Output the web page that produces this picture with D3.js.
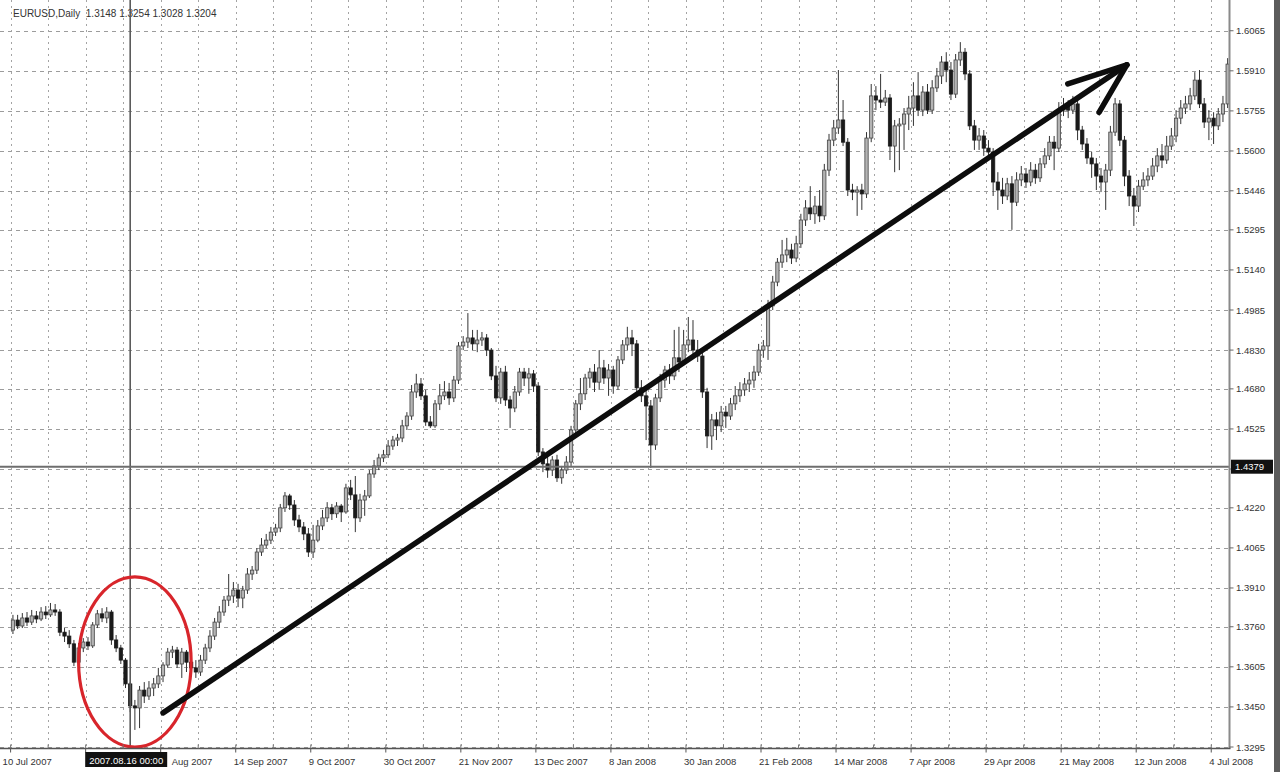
<!DOCTYPE html>
<html><head><meta charset="utf-8">
<script src="https://cdn.jsdelivr.net/npm/d3@7"></script>
<style>html,body{margin:0;padding:0;background:#fff;}svg{display:block;}</style>
</head><body>
<svg id="chart" width="1280" height="772"></svg>
<script>
// ---- data (EURUSD daily candles) ----
const opens = [
1.3747,1.3786,1.3763,1.3794,1.3778,1.3802,1.3790,1.3817,1.3806,1.3825,
1.3817,1.3739,1.3724,1.3694,1.3623,1.3678,1.3701,1.3686,1.3767,1.3810,
1.3794,1.3817,1.3709,1.3678,1.3631,1.3539,1.3454,1.3446,1.3515,1.3492,
1.3523,1.3539,1.3570,1.3612,1.3662,1.3670,1.3616,1.3662,1.3623,1.3601,
1.3585,1.3631,1.3678,1.3724,1.3778,1.3817,1.3863,1.3879,1.3902,1.3871,
1.3902,1.3964,1.3979,1.4049,1.4076,1.4095,1.4126,1.4142,1.4220,1.4266,
1.4231,1.4173,1.4146,1.4119,1.4049,1.4095,1.4150,1.4181,1.4220,1.4197,
1.4227,1.4204,1.4297,1.4270,1.4181,1.4250,1.4266,1.4351,1.4382,1.4413,
1.4425,1.4459,1.4482,1.4490,1.4537,1.4575,1.4668,1.4699,1.4653,1.4552,
1.4537,1.4622,1.4653,1.4668,1.4645,1.4714,1.4846,1.4861,1.4877,1.4854,
1.4869,1.4877,1.4830,1.4730,1.4645,1.4745,1.4637,1.4606,1.4668,1.4745,
1.4722,1.4738,1.4691,1.4436,1.4390,1.4366,1.4405,1.4336,1.4366,1.4397,
1.4521,1.4622,1.4661,1.4722,1.4745,1.4706,1.4761,1.4722,1.4753,1.4691,
1.4792,1.4850,1.4877,1.4854,1.4684,1.4653,1.4614,1.4463,1.4645,1.4714,
1.4753,1.4730,1.4800,1.4784,1.4850,1.4869,1.4830,1.4807,1.4668,1.4498,
1.4560,1.4537,1.4590,1.4575,1.4622,1.4653,1.4676,1.4699,1.4714,1.4745,
1.4830,1.4846,1.5001,1.5093,1.5170,1.5198,1.5217,1.5186,1.5241,1.5333,
1.5380,1.5357,1.5387,1.5349,1.5526,1.5642,1.5689,1.5720,1.5634,1.5449,
1.5441,1.5449,1.5434,1.5650,1.5813,1.5797,1.5789,1.5805,1.5619,1.5697,
1.5704,1.5743,1.5766,1.5813,1.5758,1.5828,1.5758,1.5844,1.5890,1.5944,
1.5913,1.5820,1.5952,1.5982,1.5898,1.5697,1.5642,1.5658,1.5611,1.5596,
1.5480,1.5449,1.5426,1.5473,1.5402,1.5488,1.5511,1.5480,1.5526,1.5496,
1.5550,1.5581,1.5634,1.5611,1.5758,1.5774,1.5758,1.5782,1.5681,1.5627,
1.5573,1.5550,1.5503,1.5480,1.5526,1.5673,1.5782,1.5642,1.5503,1.5426,
1.5387,1.5464,1.5488,1.5503,1.5542,1.5581,1.5565,1.5619,1.5658,1.5727,
1.5766,1.5782,1.5813,1.5874,1.5782,1.5712,1.5727,1.5697,1.5743,1.5782];
const highs = [
1.3806,1.3806,1.3813,1.3817,1.3825,1.3821,1.3836,1.3840,1.3852,1.3848,
1.3828,1.3755,1.3747,1.3709,1.3697,1.3716,1.3720,1.3778,1.3825,1.3832,
1.3836,1.3825,1.3728,1.3690,1.3639,1.3546,1.3477,1.3531,1.3546,1.3550,
1.3562,1.3601,1.3623,1.3678,1.3686,1.3682,1.3678,1.3670,1.3639,1.3631,
1.3651,1.3694,1.3747,1.3794,1.3840,1.3879,1.3964,1.3933,1.3926,1.3918,
1.3987,1.3995,1.4064,1.4103,1.4119,1.4146,1.4158,1.4235,1.4281,1.4274,
1.4250,1.4193,1.4165,1.4142,1.4154,1.4173,1.4212,1.4242,1.4235,1.4242,
1.4235,1.4313,1.4328,1.4343,1.4274,1.4289,1.4366,1.4405,1.4429,1.4444,
1.4482,1.4498,1.4506,1.4560,1.4590,1.4695,1.4738,1.4722,1.4676,1.4575,
1.4637,1.4699,1.4710,1.4703,1.4730,1.4861,1.4884,1.4973,1.4908,1.4908,
1.4900,1.4892,1.4838,1.4769,1.4761,1.4769,1.4653,1.4691,1.4761,1.4761,
1.4761,1.4753,1.4706,1.4451,1.4420,1.4420,1.4425,1.4382,1.4420,1.4537,
1.4637,1.4722,1.4738,1.4761,1.4776,1.4830,1.4792,1.4776,1.4769,1.4807,
1.4869,1.4920,1.4908,1.4869,1.4714,1.4684,1.4637,1.4661,1.4738,1.4769,
1.4776,1.4908,1.4920,1.4908,1.4958,1.4946,1.4869,1.4822,1.4684,1.4583,
1.4590,1.4614,1.4614,1.4645,1.4691,1.4706,1.4722,1.4745,1.4769,1.4854,
1.4869,1.5024,1.5117,1.5186,1.5256,1.5264,1.5241,1.5272,1.5357,1.5410,
1.5464,1.5426,1.5449,1.5550,1.5666,1.5720,1.5913,1.5797,1.5650,1.5473,
1.5464,1.5473,1.5673,1.5859,1.5851,1.5898,1.5836,1.5820,1.5720,1.5727,
1.5766,1.5813,1.5866,1.5905,1.5851,1.5859,1.5874,1.5921,1.5967,1.5982,
1.5944,1.5975,1.6021,1.5998,1.5913,1.5720,1.5689,1.5681,1.5642,1.5611,
1.5518,1.5496,1.5496,1.5503,1.5518,1.5542,1.5534,1.5557,1.5550,1.5573,
1.5611,1.5658,1.5658,1.5789,1.5805,1.5797,1.5813,1.5797,1.5697,1.5650,
1.5596,1.5573,1.5534,1.5550,1.5697,1.5805,1.5797,1.5658,1.5526,1.5457,
1.5488,1.5518,1.5534,1.5573,1.5611,1.5627,1.5658,1.5689,1.5758,1.5797,
1.5813,1.5844,1.5905,1.5913,1.5805,1.5758,1.5750,1.5766,1.5813,1.5959];
const lows = [
1.3732,1.3751,1.3755,1.3763,1.3767,1.3774,1.3782,1.3790,1.3798,1.3802,
1.3724,1.3701,1.3678,1.3608,1.3612,1.3662,1.3670,1.3678,1.3755,1.3778,
1.3774,1.3690,1.3662,1.3616,1.3523,1.3430,1.3361,1.3368,1.3465,1.3477,
1.3492,1.3523,1.3546,1.3601,1.3639,1.3601,1.3562,1.3585,1.3574,1.3562,
1.3570,1.3616,1.3662,1.3709,1.3755,1.3802,1.3840,1.3852,1.3836,1.3832,
1.3887,1.3941,1.3964,1.4034,1.4064,1.4080,1.4111,1.4126,1.4204,1.4212,
1.4150,1.4126,1.4095,1.4030,1.4026,1.4087,1.4134,1.4165,1.4173,1.4181,
1.4165,1.4197,1.4250,1.4126,1.4165,1.4189,1.4258,1.4336,1.4366,1.4397,
1.4413,1.4444,1.4459,1.4474,1.4521,1.4560,1.4645,1.4637,1.4537,1.4529,
1.4529,1.4598,1.4637,1.4618,1.4629,1.4699,1.4830,1.4838,1.4830,1.4822,
1.4846,1.4807,1.4714,1.4629,1.4622,1.4614,1.4529,1.4590,1.4653,1.4691,
1.4661,1.4668,1.4420,1.4358,1.4336,1.4343,1.4320,1.4313,1.4351,1.4382,
1.4498,1.4598,1.4637,1.4684,1.4668,1.4676,1.4699,1.4653,1.4661,1.4676,
1.4776,1.4830,1.4807,1.4668,1.4629,1.4482,1.4374,1.4444,1.4629,1.4684,
1.4699,1.4714,1.4745,1.4769,1.4822,1.4807,1.4784,1.4645,1.4451,1.4444,
1.4482,1.4513,1.4529,1.4560,1.4598,1.4629,1.4653,1.4668,1.4684,1.4730,
1.4800,1.4792,1.4985,1.5077,1.5148,1.5170,1.5163,1.5170,1.5225,1.5310,
1.5333,1.5318,1.5325,1.5333,1.5503,1.5619,1.5666,1.5619,1.5426,1.5410,
1.5349,1.5372,1.5418,1.5634,1.5758,1.5766,1.5774,1.5565,1.5518,1.5526,
1.5604,1.5681,1.5697,1.5735,1.5735,1.5743,1.5743,1.5828,1.5859,1.5866,
1.5797,1.5805,1.5929,1.5874,1.5681,1.5604,1.5604,1.5581,1.5565,1.5426,
1.5372,1.5395,1.5410,1.5295,1.5387,1.5464,1.5457,1.5464,1.5473,1.5480,
1.5534,1.5565,1.5526,1.5596,1.5735,1.5727,1.5743,1.5642,1.5604,1.5550,
1.5496,1.5449,1.5441,1.5372,1.5503,1.5658,1.5619,1.5464,1.5387,1.5310,
1.5364,1.5449,1.5464,1.5488,1.5518,1.5534,1.5550,1.5604,1.5634,1.5704,
1.5743,1.5758,1.5797,1.5766,1.5689,1.5642,1.5627,1.5681,1.5712,1.5766];
const closes = [
1.3786,1.3763,1.3794,1.3778,1.3802,1.3790,1.3817,1.3806,1.3825,1.3817,
1.3739,1.3724,1.3694,1.3623,1.3678,1.3701,1.3686,1.3767,1.3810,1.3794,
1.3817,1.3709,1.3678,1.3631,1.3539,1.3454,1.3446,1.3515,1.3492,1.3523,
1.3539,1.3570,1.3612,1.3662,1.3670,1.3616,1.3662,1.3623,1.3601,1.3585,
1.3631,1.3678,1.3724,1.3778,1.3817,1.3863,1.3879,1.3902,1.3871,1.3902,
1.3964,1.3979,1.4049,1.4076,1.4095,1.4126,1.4142,1.4220,1.4266,1.4231,
1.4173,1.4146,1.4119,1.4049,1.4095,1.4150,1.4181,1.4220,1.4197,1.4227,
1.4204,1.4297,1.4270,1.4181,1.4250,1.4266,1.4351,1.4382,1.4413,1.4425,
1.4459,1.4482,1.4490,1.4537,1.4575,1.4668,1.4699,1.4653,1.4552,1.4537,
1.4622,1.4653,1.4668,1.4645,1.4714,1.4846,1.4861,1.4877,1.4854,1.4869,
1.4877,1.4830,1.4730,1.4645,1.4745,1.4637,1.4606,1.4668,1.4745,1.4722,
1.4738,1.4691,1.4436,1.4390,1.4366,1.4405,1.4336,1.4366,1.4397,1.4521,
1.4622,1.4661,1.4722,1.4745,1.4706,1.4761,1.4722,1.4753,1.4691,1.4792,
1.4850,1.4877,1.4854,1.4684,1.4653,1.4614,1.4463,1.4645,1.4714,1.4753,
1.4730,1.4800,1.4784,1.4850,1.4869,1.4830,1.4807,1.4668,1.4498,1.4560,
1.4537,1.4590,1.4575,1.4622,1.4653,1.4676,1.4699,1.4714,1.4745,1.4830,
1.4846,1.5001,1.5093,1.5170,1.5198,1.5217,1.5186,1.5241,1.5333,1.5380,
1.5357,1.5387,1.5349,1.5526,1.5642,1.5689,1.5720,1.5634,1.5449,1.5441,
1.5449,1.5434,1.5650,1.5813,1.5797,1.5789,1.5805,1.5619,1.5697,1.5704,
1.5743,1.5766,1.5813,1.5758,1.5828,1.5758,1.5844,1.5890,1.5944,1.5913,
1.5820,1.5952,1.5982,1.5898,1.5697,1.5642,1.5658,1.5611,1.5596,1.5480,
1.5449,1.5426,1.5473,1.5402,1.5488,1.5511,1.5480,1.5526,1.5496,1.5550,
1.5581,1.5634,1.5611,1.5758,1.5774,1.5758,1.5782,1.5681,1.5627,1.5573,
1.5550,1.5503,1.5480,1.5526,1.5673,1.5782,1.5642,1.5503,1.5426,1.5387,
1.5464,1.5488,1.5503,1.5542,1.5581,1.5565,1.5619,1.5658,1.5727,1.5766,
1.5782,1.5813,1.5874,1.5782,1.5712,1.5727,1.5697,1.5743,1.5782,1.5936];

// date labels every 16 bars; the 2nd one is hidden under the crosshair date box in the reference,
// and only the "Aug 2007" part of the 3rd one is visible there
const dateLabels = ["10 Jul 2007","","Aug 2007","14 Sep 2007","9 Oct 2007","30 Oct 2007",
  "21 Nov 2007","13 Dec 2007","8 Jan 2008","30 Jan 2008","21 Feb 2008","14 Mar 2008","7 Apr 2008",
  "29 Apr 2008","21 May 2008","12 Jun 2008","4 Jul 2008"];
const priceTicks = [1.3295,1.3450,1.3605,1.3760,1.3910,1.4065,1.4220,1.4370,1.4525,1.4680,
  1.4830,1.4985,1.5140,1.5295,1.5446,1.5600,1.5755,1.5910,1.6065];
const headerText = "EURUSD,Daily  1.3148 1.3254 1.3028 1.3204";
const crosshairBar = 25;
const crosshairDate = "2007.08.16 00:00";
const crosshairPrice = 1.4379;
const trendFrom = {bar: 32, price: 1.3427};
const trendTo = {bar: 237.5, price: 1.5933};
const circleCenter = {bar: 26, price: 1.3624};
const circleHalfBars = 12, circleHalfPrice = 0.0329;

// ---- drawing ----
const FONT = "'Liberation Sans', Arial, sans-serif";
const svg = d3.select("#chart");
const n = closes.length;
const axisX = 1229.5, axisY = 748.5;
const y = d3.scaleLinear().domain([1.3295, 1.6064]).range([747, 31]);
const x = d3.scaleBand().domain(d3.range(n)).range([10.6, 1230]).paddingInner(0.3).paddingOuter(0.15);
const step = x.step();
const cx = i => x(i) + x.bandwidth() / 2;
const slot = i => 10.6 + i * step;
const fx = b => 10.6 + (b + 0.5) * step; // fractional bar position

svg.append("rect").attr("width", 1280).attr("height", 772).attr("fill", "#fff");

// grid
const grid = svg.append("g");
grid.selectAll("line.h").data(priceTicks).join("line")
  .attr("x1", 0).attr("x2", axisX).attr("y1", d => Math.round(y(d)) + 0.5).attr("y2", d => Math.round(y(d)) + 0.5)
  .attr("stroke", "#9c9c9c").attr("stroke-width", 1).attr("stroke-dasharray", "4,4");
const vIdx = d3.range(0, n, 8);
grid.selectAll("line.v").data(vIdx).join("line")
  .attr("x1", d => Math.round(slot(d)) + 0.5).attr("x2", d => Math.round(slot(d)) + 0.5)
  .attr("y1", 0).attr("y2", axisY)
  .attr("stroke", "#a4a4a4").attr("stroke-width", 1).attr("stroke-dasharray", "2,4");

// header
svg.append("text").attr("x", 13).attr("y", 17).attr("font-family", FONT).attr("font-size", 10)
  .attr("fill", "#333").attr("xml:space", "preserve").style("white-space", "pre").text(headerText);

// candles
const data = d3.range(n).map(i => ({i, o: opens[i], h: highs[i], l: lows[i], c: closes[i]}));
const cg = svg.append("g");
cg.selectAll("line.wick").data(data).join("line")
  .attr("x1", d => cx(d.i)).attr("x2", d => cx(d.i))
  .attr("y1", d => y(Math.max(d.h, d.o, d.c))).attr("y2", d => y(Math.min(d.l, d.o, d.c)))
  .attr("stroke", "#333").attr("stroke-width", 1);
cg.selectAll("rect.body").data(data).join("rect")
  .attr("x", d => x(d.i)).attr("width", x.bandwidth())
  .attr("y", d => y(Math.max(d.o, d.c))).attr("height", d => Math.max(1, Math.abs(y(d.o) - y(d.c))))
  .attr("fill", d => d.c >= d.o ? "#b4b4b4" : "#1a1a1a")
  .attr("stroke", d => d.c >= d.o ? "#444" : "#1a1a1a").attr("stroke-width", 0.8);

// crosshair
svg.append("line").attr("x1", cx(crosshairBar)).attr("x2", cx(crosshairBar)).attr("y1", 0).attr("y2", axisY)
  .attr("stroke", "#5a5a5a").attr("stroke-width", 1.6);
svg.append("line").attr("x1", 0).attr("x2", axisX).attr("y1", y(crosshairPrice)).attr("y2", y(crosshairPrice))
  .attr("stroke", "#6e6e6e").attr("stroke-width", 2);

// red ellipse
const ecx = fx(circleCenter.bar), ecy = y(circleCenter.price);
svg.append("ellipse").attr("cx", ecx).attr("cy", ecy)
  .attr("rx", circleHalfBars * step).attr("ry", y(circleCenter.price - circleHalfPrice) - ecy)
  .attr("fill", "none").attr("stroke", "#d8252b").attr("stroke-width", 3.2);

// trend arrow
const ax1 = fx(trendFrom.bar), ay1 = y(trendFrom.price), ax2 = fx(trendTo.bar), ay2 = y(trendTo.price);
const arr = svg.append("g").attr("stroke", "#0d0d0d").attr("stroke-width", 5.5).attr("stroke-linecap", "round").attr("fill", "none");
arr.append("line").attr("x1", ax1).attr("y1", ay1).attr("x2", ax2).attr("y2", ay2);
const ang = Math.atan2(ay1 - ay2, ax1 - ax2);
[[0.28, 62], [-0.45, 55]].forEach(([da, len]) => {
  arr.append("line").attr("x1", ax2).attr("y1", ay2)
    .attr("x2", ax2 + len * Math.cos(ang + da)).attr("y2", ay2 + len * Math.sin(ang + da));
});

// right price axis
svg.append("line").attr("x1", axisX).attr("x2", axisX).attr("y1", 0).attr("y2", axisY)
  .attr("stroke", "#8a8a8a").attr("stroke-width", 2);
const ra = svg.append("g");
ra.selectAll("line").data(priceTicks).join("line")
  .attr("x1", axisX).attr("x2", axisX + 4).attr("y1", d => y(d)).attr("y2", d => y(d))
  .attr("stroke", "#666").attr("stroke-width", 1);
ra.selectAll("text").data(priceTicks.filter(d => Math.abs(y(d) - y(crosshairPrice)) > 8)).join("text")
  .attr("x", 1236).attr("y", d => y(d) + 3.5).attr("font-family", FONT).attr("font-size", 9.5)
  .attr("fill", "#333").text(d => d.toFixed(4));
svg.append("rect").attr("x", 1231).attr("y", y(crosshairPrice) - 7).attr("width", 42).attr("height", 14).attr("fill", "#111");
svg.append("text").attr("x", 1235).attr("y", y(crosshairPrice) + 3.5).attr("font-family", FONT).attr("font-size", 9.5)
  .attr("fill", "#fff").text(crosshairPrice.toFixed(4));

// bottom time axis
svg.append("line").attr("x1", 0).attr("x2", axisX + 1).attr("y1", axisY).attr("y2", axisY)
  .attr("stroke", "#555").attr("stroke-width", 1.5);
svg.append("g").selectAll("line").data(vIdx).join("line")
  .attr("x1", d => slot(d)).attr("x2", d => slot(d)).attr("y1", axisY - 4).attr("y2", axisY)
  .attr("stroke", "#777").attr("stroke-width", 1);
const lIdx = dateLabels.map((d, k) => k * 16);
svg.append("g").selectAll("line").data(lIdx).join("line")
  .attr("x1", d => slot(d)).attr("x2", d => slot(d)).attr("y1", axisY).attr("y2", axisY + 4)
  .attr("stroke", "#555").attr("stroke-width", 1);
svg.append("g").selectAll("text").data(dateLabels).join("text")
  .attr("x", (d, k) => k === 0 ? slot(0) - 8 : (k === 2 ? slot(k * 16) + 11 : slot(k * 16) - 2)).attr("y", 765)
  .attr("font-family", FONT).attr("font-size", 9.5).attr("fill", "#333").text(d => d);
const bw = 82;
svg.append("rect").attr("x", cx(crosshairBar) - bw / 2 - 4).attr("y", 752).attr("width", bw).attr("height", 15).attr("fill", "#111");
svg.append("text").attr("x", cx(crosshairBar) - 4).attr("y", 763.5).attr("text-anchor", "middle")
  .attr("font-family", FONT).attr("font-size", 9.5).attr("fill", "#fff").text(crosshairDate);

// right window border
svg.append("rect").attr("x", 1274).attr("y", 0).attr("width", 6).attr("height", 772).attr("fill", "#5c5c5c");
</script>
</body></html>
